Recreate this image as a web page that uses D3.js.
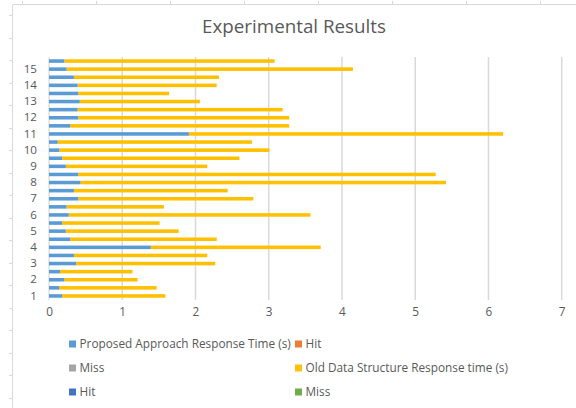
<!DOCTYPE html>
<html>
<head>
<meta charset="utf-8">
<script src="https://cdn.jsdelivr.net/npm/d3@7/dist/d3.min.js"></script>
<style>
  html, body { margin: 0; padding: 0; background: #fff; }
  svg { display: block; font-family: "Open Sans", "Noto Sans", sans-serif; }
</style>
</head>
<body>
<svg id="chart" width="576" height="408"></svg>
<script>
// ---- Data (bottom row first) ----
const rows = d3.range(1, 31);
const rowLabels = ["1","","2","","3","","4","","5","","6","","7","","8","","9","","10","","11","","12","","13","","14","","15",""];
const proposedTime = [0.18,0.14,0.21,0.15,0.37,0.34,1.39,0.29,0.23,0.18,0.27,0.24,0.40,0.34,0.43,0.40,0.23,0.18,0.14,0.12,1.91,0.29,0.40,0.39,0.42,0.40,0.39,0.34,0.24,0.21];
const oldTime      = [1.41,1.33,1.00,0.99,1.90,1.82,2.32,2.00,1.54,1.33,3.30,1.33,2.39,2.10,4.99,4.88,1.93,2.42,2.87,2.65,4.29,2.99,2.88,2.80,1.64,1.24,1.90,1.98,3.91,2.87];
const xTicks = [0,1,2,3,4,5,6,7];
const legendNames  = ["Proposed Approach Response Time (s)","Hit","Miss","Old Data Structure Response time (s)","Hit","Miss"];
const legendColors = ["#5B9BD5","#ED7D31","#A5A5A5","#FFC000","#4472C4","#70AD47"];
const title = "Experimental Results";

const svg = d3.select("#chart");

// ---- outer frame (spreadsheet border) ----
const frame = svg.append("g").attr("stroke", "#d9d9d9").attr("stroke-width", 1);
frame.append("line").attr("x1", 12.5).attr("x2", 576).attr("y1", 4.5).attr("y2", 4.5);
frame.append("line").attr("x1", 12.5).attr("x2", 12.5).attr("y1", 4.5).attr("y2", 408);
d3.range(0, 18).forEach(k => {
  const yy = Math.round(15 + 22.53 * k) + 0.5;
  frame.append("line").attr("x1", 9).attr("x2", 12).attr("y1", yy).attr("y2", yy);
});
d3.range(0, 8).forEach(k => {
  const xx = Math.round(22 + 74 * k) + 0.5;
  frame.append("line").attr("x1", xx).attr("x2", xx).attr("y1", 1).attr("y2", 4);
});

// ---- scales ----
const plot = { left: 49, right: 561.7, top: 57, bottom: 300 };
const x = d3.scaleLinear().domain([0, 7]).range([plot.left, plot.right]);
const y = d3.scaleBand().domain(rows).range([plot.bottom, plot.top]).paddingInner(0.56).paddingOuter(0.28);

// ---- title ----
svg.append("text")
  .attr("x", 294).attr("y", 33)
  .attr("text-anchor", "middle")
  .attr("fill", "#595959")
  .attr("font-size", 18.8)
  .text(title);

// ---- gridlines ----
svg.append("g")
  .selectAll("line")
  .data(xTicks.slice(1))
  .join("line")
  .attr("x1", d => x(d)).attr("x2", d => x(d))
  .attr("y1", plot.top).attr("y2", plot.bottom)
  .attr("stroke", "#d9d9d9").attr("stroke-width", 1.5);

// y axis line
svg.append("line")
  .attr("x1", x(0)).attr("x2", x(0))
  .attr("y1", plot.top).attr("y2", plot.bottom)
  .attr("stroke", "#d9d9d9").attr("stroke-width", 1.2);

// ---- bars ----
const barsData = rows.map((r, i) => ({ row: r, p: proposedTime[i], o: oldTime[i] }));
const g = svg.append("g");
g.selectAll("rect.old")
  .data(barsData)
  .join("rect")
  .attr("class", "old")
  .attr("x", d => x(d.p))
  .attr("y", d => y(d.row))
  .attr("width", d => x(d.p + d.o) - x(d.p))
  .attr("height", y.bandwidth())
  .attr("fill", "#FFC000");
g.selectAll("rect.prop")
  .data(barsData)
  .join("rect")
  .attr("class", "prop")
  .attr("x", x(0))
  .attr("y", d => y(d.row))
  .attr("width", d => x(d.p) - x(0))
  .attr("height", y.bandwidth())
  .attr("fill", "#5B9BD5");

// ---- y axis labels (only labelled rows) ----
const labelledRows = rows.filter((d, i) => rowLabels[i] !== "");
const yAxis = d3.axisLeft(y).tickValues(labelledRows).tickSize(0).tickPadding(0)
  .tickFormat(d => rowLabels[rows.indexOf(d)]);
const ya = svg.append("g").attr("transform", `translate(37,0)`).call(yAxis);
ya.select(".domain").remove();
ya.selectAll("text").attr("fill", "#595959").attr("font-size", 11.6)
  .attr("font-family", "'Open Sans', sans-serif");

// ---- x axis labels ----
const xAxis = d3.axisBottom(x).tickValues(xTicks).tickSize(0).tickPadding(0).tickFormat(d3.format("d"));
const xa = svg.append("g").attr("transform", `translate(0,308)`).call(xAxis);
xa.select(".domain").remove();
xa.selectAll("text").attr("fill", "#595959").attr("font-size", 11.8)
  .attr("font-family", "'Open Sans', sans-serif");

// ---- legend ----
const legCols = [69, 295];
const legRows = [344, 368, 392];
const leg = svg.append("g");
legendNames.forEach((name, i) => {
  const cx = legCols[i % 2], cy = legRows[Math.floor(i / 2)];
  leg.append("rect").attr("x", cx).attr("y", cy - 3.5).attr("width", 7).attr("height", 7).attr("fill", legendColors[i]);
  leg.append("text").attr("x", cx + 10.5).attr("y", cy + 4.3)
    .attr("fill", "#595959").attr("font-size", 11.8).text(name);
});
</script>
</body>
</html>
